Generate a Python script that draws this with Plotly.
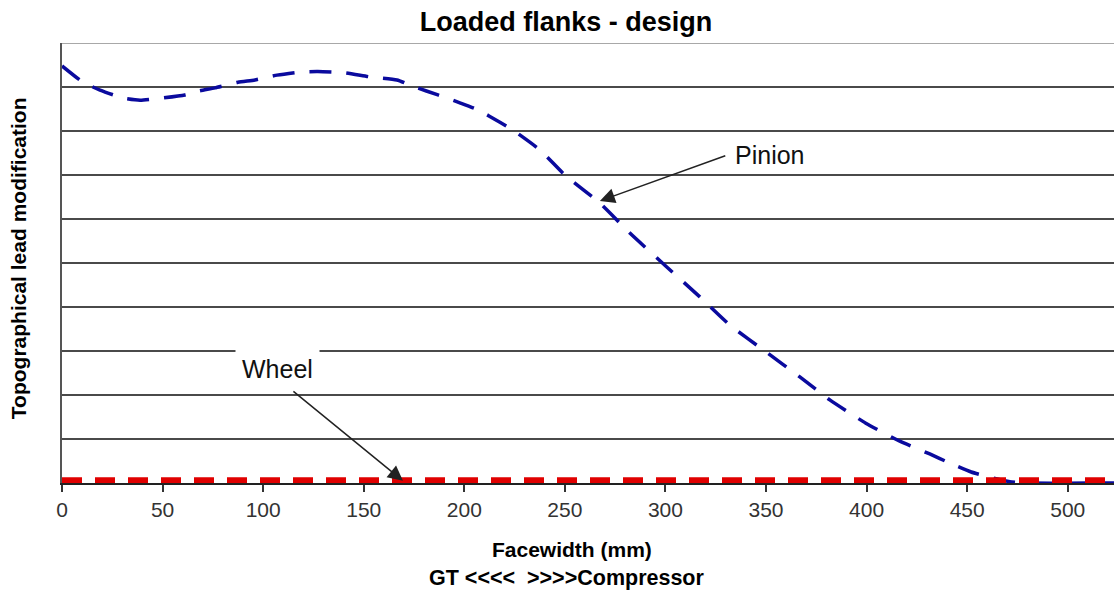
import plotly.graph_objects as go

# ---- data ----
pinion_x = [0, 10.4, 18.9, 30.3, 38.8, 49.7, 61.1, 68.1, 76, 87.5, 95.9, 106.9, 118.3, 127.2,
            140.7, 153, 166.5, 175.4, 186.9, 197.8, 206.8, 217.7, 224.2, 237.6, 250, 267.4, 282.3,
            299.7, 317.1, 332, 350, 366.8, 381.7, 399.6, 416.5, 431.4, 441, 452, 465, 471.2, 478.6, 523]
pinion_y = [9.48, 9.11, 8.93, 8.75, 8.70, 8.75, 8.82, 8.91, 8.98, 9.11, 9.16, 9.27, 9.34, 9.35,
            9.32, 9.23, 9.16, 9.0, 8.82, 8.64, 8.48, 8.20, 8.02, 7.57, 7.0, 6.36, 5.68,
            4.95, 4.23, 3.59, 2.98, 2.41, 1.89, 1.36, 0.95, 0.66, 0.46, 0.25, 0.09, 0.03, 0.0, 0.0]
wheel_x = [0, 523]
wheel_y = [0.06, 0.06]
x_ticks = [0, 50, 100, 150, 200, 250, 300, 350, 400, 450, 500]

FONT = "Liberation Sans, Arial, sans-serif"

fig = go.Figure()
fig.add_trace(go.Scatter(x=pinion_x, y=pinion_y, mode="lines", name="Pinion",
                         line=dict(color="#0A0A9E", width=3.5, dash="22px,15px", shape="spline", smoothing=0.5)))
fig.add_trace(go.Scatter(x=wheel_x, y=wheel_y, mode="lines", name="Wheel",
                         line=dict(color="#E00000", width=6, dash="20px,13px")))

fig.update_layout(
    width=1114, height=592,
    margin=dict(l=62, r=0, t=43, b=109),
    paper_bgcolor="white", plot_bgcolor="white",
    showlegend=False,
    font=dict(family=FONT, color="#000"),
    title=dict(text="<b>Loaded flanks - design</b>", x=566 / 1114, xref="container", xanchor="center",
               y=1 - 22 / 592, yref="container", yanchor="middle",
               font=dict(family=FONT, size=27, color="#000")),
    xaxis=dict(range=[0, 523], tickvals=x_ticks, ticks="outside", ticklen=7, tickwidth=1.5,
               tickcolor="#333", showline=True, linecolor="#222", linewidth=1.5,
               showgrid=False, zeroline=False,
               tickfont=dict(family=FONT, size=21, color="#333")),
    yaxis=dict(range=[0, 10], dtick=1, showticklabels=False, ticks="",
               showgrid=True, gridcolor="#4a4a4a", gridwidth=1.5,
               showline=True, linecolor="#555", linewidth=1.5, zeroline=False),
)

# lighter top border line
fig.add_shape(type="line", xref="paper", yref="y", x0=0, x1=1, y0=10, y1=10,
              line=dict(color="#a8a8a8", width=2), layer="above")

# axis titles as annotations
fig.add_annotation(text="<b>Topographical lead modification</b>", xref="paper", yref="paper",
                   x=(18 - 62) / 1052, y=0.511, textangle=-90, showarrow=False,
                   xanchor="center", yanchor="middle", font=dict(family=FONT, size=21, color="#000"))
fig.add_annotation(text="<b>Facewidth (mm)</b>", xref="paper", yref="paper",
                   x=(572 - 62) / 1052, y=-(549 - 483) / 440, showarrow=False,
                   xanchor="center", yanchor="middle", font=dict(family=FONT, size=21, color="#000"))
fig.add_annotation(text="<b>GT &lt;&lt;&lt;&lt;&nbsp; &gt;&gt;&gt;&gt;Compressor</b>", xref="paper", yref="paper",
                   x=(567 - 62) / 1052, y=-(578 - 483) / 440, showarrow=False,
                   xanchor="center", yanchor="middle", font=dict(family=FONT, size=21.5, color="#000"))

# series labels with arrows
fig.add_annotation(text="Pinion", x=352, y=7.45, xref="x", yref="y", showarrow=False,
                   bgcolor="white", font=dict(family=FONT, size=25, color="#111"))
fig.add_annotation(text="", x=267.4, y=6.41, ax=330.5, ay=7.45, xref="x", yref="y",
                   axref="x", ayref="y", showarrow=True, arrowhead=2, arrowsize=2,
                   arrowwidth=1.5, arrowcolor="#222")
fig.add_annotation(text="Wheel", x=106.9, y=2.59, xref="x", yref="y", showarrow=False,
                   bgcolor="white", borderpad=6, font=dict(family=FONT, size=25, color="#111"))
fig.add_annotation(text="", x=169.5, y=0.05, ax=114.3, ay=2.11, xref="x", yref="y",
                   axref="x", ayref="y", showarrow=True, arrowhead=2, arrowsize=2,
                   arrowwidth=1.5, arrowcolor="#222")

fig.write_html("out.html", config={"displayModeBar": False},
               post_script="document.body.style.margin='0px';document.body.style.overflow='hidden';")
